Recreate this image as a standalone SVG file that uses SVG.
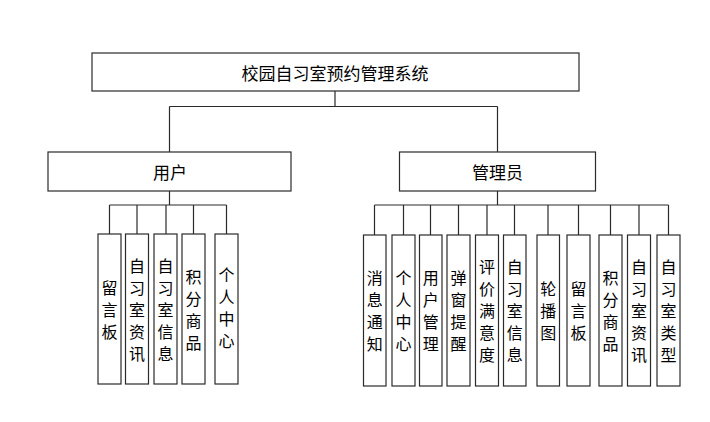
<svg xmlns="http://www.w3.org/2000/svg" width="710" height="422" viewBox="0 0 710 422">
<style>
.box{fill:#fff;stroke:#2a2a2a;stroke-width:1.2}
.ln{fill:none;stroke:#2a2a2a;stroke-width:1.2}
.t{font-family:"Noto Sans CJK SC","Noto Sans",sans-serif;font-size:17px;fill:#000;text-anchor:middle;dominant-baseline:central}
.v{font-family:"Noto Sans CJK SC","Noto Sans",sans-serif;font-size:16px;fill:#000;text-anchor:middle;dominant-baseline:central}
</style>
<rect width="710" height="422" fill="#fff"/>
<g id="connectors">
<path class="ln" d="M335 91V106.5M169.5 106.5H497.5M169.5 106.5V152M497.5 106.5V152"/>
<path class="ln" d="M169.5 191V205M109.5 205H226.5M109.5 205V234M137 205V234M166 205V234M193.5 205V234M226.5 205V234"/>
<path class="ln" d="M497.5 191V205M374.5 205H668.5M374.5 205V235M403.5 205V235M430.5 205V235M458.5 205V235M487 205V235M514.5 205V235M548 205V235M578.5 205V235M610.5 205V235M639 205V235M668.5 205V235"/>
</g>
<g id="root"><rect class="box" x="92" y="53" width="487" height="38"/><text class="t" x="335" y="72">校园自习室预约管理系统</text></g>
<g id="user"><rect class="box" x="48" y="152" width="243" height="39"/><text class="t" x="170" y="171.5">用户</text></g>
<g id="admin"><rect class="box" x="399.5" y="152" width="196" height="39"/><text class="t" x="497.5" y="171.5">管理员</text></g>

<g id="u1"><rect class="box" x="98" y="234" width="23" height="150"/><text class="v"><tspan x="109.5" y="287">留</tspan><tspan x="109.5" y="309">言</tspan><tspan x="109.5" y="331">板</tspan></text></g>
<g id="u2"><rect class="box" x="125.5" y="234" width="23" height="150"/><text class="v"><tspan x="137" y="265">自</tspan><tspan x="137" y="287">习</tspan><tspan x="137" y="309">室</tspan><tspan x="137" y="331">资</tspan><tspan x="137" y="353">讯</tspan></text></g>
<g id="u3"><rect class="box" x="154" y="234" width="23" height="150"/><text class="v"><tspan x="165.5" y="265">自</tspan><tspan x="165.5" y="287">习</tspan><tspan x="165.5" y="309">室</tspan><tspan x="165.5" y="331">信</tspan><tspan x="165.5" y="353">息</tspan></text></g>
<g id="u4"><rect class="box" x="182" y="234" width="23" height="150"/><text class="v"><tspan x="193.5" y="276">积</tspan><tspan x="193.5" y="298">分</tspan><tspan x="193.5" y="320">商</tspan><tspan x="193.5" y="342">品</tspan></text></g>
<g id="u5"><rect class="box" x="215" y="234" width="23" height="150"/><text class="v"><tspan x="226.5" y="274">个</tspan><tspan x="226.5" y="296">人</tspan><tspan x="226.5" y="318">中</tspan><tspan x="226.5" y="340">心</tspan></text></g>

<g id="a1"><rect class="box" x="363.5" y="235" width="22.5" height="151"/><text class="v"><tspan x="374.7" y="277">消</tspan><tspan x="374.7" y="299">息</tspan><tspan x="374.7" y="321">通</tspan><tspan x="374.7" y="343">知</tspan></text></g>
<g id="a2"><rect class="box" x="392" y="235" width="23" height="151"/><text class="v"><tspan x="403.5" y="277">个</tspan><tspan x="403.5" y="299">人</tspan><tspan x="403.5" y="321">中</tspan><tspan x="403.5" y="343">心</tspan></text></g>
<g id="a3"><rect class="box" x="419.5" y="235" width="22.5" height="151"/><text class="v"><tspan x="430.7" y="277">用</tspan><tspan x="430.7" y="299">户</tspan><tspan x="430.7" y="321">管</tspan><tspan x="430.7" y="343">理</tspan></text></g>
<g id="a4"><rect class="box" x="447" y="235" width="23" height="151"/><text class="v"><tspan x="458.5" y="277">弹</tspan><tspan x="458.5" y="299">窗</tspan><tspan x="458.5" y="321">提</tspan><tspan x="458.5" y="343">醒</tspan></text></g>
<g id="a5"><rect class="box" x="475.5" y="235" width="23" height="151"/><text class="v"><tspan x="487" y="266">评</tspan><tspan x="487" y="288">价</tspan><tspan x="487" y="310">满</tspan><tspan x="487" y="332">意</tspan><tspan x="487" y="354">度</tspan></text></g>
<g id="a6"><rect class="box" x="503.5" y="235" width="22.5" height="151"/><text class="v"><tspan x="514.7" y="266">自</tspan><tspan x="514.7" y="288">习</tspan><tspan x="514.7" y="310">室</tspan><tspan x="514.7" y="332">信</tspan><tspan x="514.7" y="354">息</tspan></text></g>
<g id="a7"><rect class="box" x="537" y="235" width="22.5" height="151"/><text class="v"><tspan x="548.2" y="288">轮</tspan><tspan x="548.2" y="310">播</tspan><tspan x="548.2" y="332">图</tspan></text></g>
<g id="a8"><rect class="box" x="567" y="235" width="23" height="151"/><text class="v"><tspan x="578.5" y="288">留</tspan><tspan x="578.5" y="310">言</tspan><tspan x="578.5" y="332">板</tspan></text></g>
<g id="a9"><rect class="box" x="599" y="235" width="23" height="151"/><text class="v"><tspan x="610.5" y="277">积</tspan><tspan x="610.5" y="299">分</tspan><tspan x="610.5" y="321">商</tspan><tspan x="610.5" y="343">品</tspan></text></g>
<g id="a10"><rect class="box" x="627.5" y="235" width="23" height="151"/><text class="v"><tspan x="639" y="266">自</tspan><tspan x="639" y="288">习</tspan><tspan x="639" y="310">室</tspan><tspan x="639" y="332">资</tspan><tspan x="639" y="354">讯</tspan></text></g>
<g id="a11"><rect class="box" x="657" y="235" width="23" height="151"/><text class="v"><tspan x="668.5" y="266">自</tspan><tspan x="668.5" y="288">习</tspan><tspan x="668.5" y="310">室</tspan><tspan x="668.5" y="332">类</tspan><tspan x="668.5" y="354">型</tspan></text></g>
</svg>
